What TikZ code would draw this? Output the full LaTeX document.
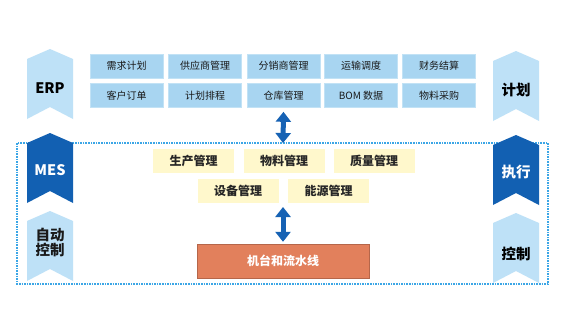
\documentclass[tikz,border=0pt]{standalone}
\usepackage{fontspec}
\setmainfont{Noto Sans CJK SC}
\usepackage{tikz}
\usetikzlibrary{arrows.meta}
\definecolor{planblue}{RGB}{168,213,241}
\definecolor{lightchev}{RGB}{190,225,247}
\definecolor{darkchev}{RGB}{18,96,178}
\definecolor{mesyellow}{RGB}{255,248,204}
\definecolor{lineorange}{RGB}{226,128,92}
\definecolor{framedot}{RGB}{60,166,230}
\definecolor{arrowblue}{RGB}{22,98,180}

\newcommand{\chevron}[3]{%
  \fill[#3] ({#1-23},#2) -- (#1,{#2-10}) -- ({#1+23},#2) -- ({#1+23},{#2+60})
    -- (#1,{#2+48}) -- ({#1-23},{#2+60}) -- cycle;}

\begin{document}
\begin{tikzpicture}[x=1pt, y=-1pt,
  plan/.style={fill=planblue, draw=planblue!70!white, line width=0.6pt,
    minimum width=73pt, minimum height=24pt, inner sep=0pt, font=\fontsize{10}{11}\selectfont, text=black!90},
  mes/.style={fill=mesyellow, minimum width=81pt, minimum height=24pt, inner sep=0pt,
    font=\fontsize{12}{13}\selectfont\bfseries, text=black!85},
  layer/.style={font=\fontsize{14.5}{16}\selectfont\bfseries, align=center, inner sep=0pt},
  dblarrow/.style={{Triangle[width=15pt,length=10pt]}-{Triangle[width=15pt,length=10pt]},
    line width=5pt, draw=arrowblue}]
\useasboundingbox (0,0) rectangle (570,335);
\fill[white] (0,0) rectangle (570,335);

\draw[framedot, line width=1.6pt, densely dotted] (17,143) rectangle (548,284);

\chevron{50}{59}{lightchev}
\chevron{50}{143}{darkchev}
\chevron{50}{221}{lightchev}
\chevron{516}{61}{lightchev}
\chevron{516}{145}{darkchev}
\chevron{516}{223}{lightchev}

\node[layer] (erp) at (50,88) {ERP};
\node[layer, text=white] (mes) at (50,170) {MES};
\node[layer, text=black!90] (zdkz) at (50,242) {自动\\[-1pt]控制};
\node[layer] (jihua) at (516,90) {计划};
\node[layer, text=white] (zhixing) at (516,172) {执行};
\node[layer] (kongzhi) at (516,254) {控制};

\node[plan] (xqjh) at (126.5,66) {需求计划};
\node[plan] (gysgl) at (205,66) {供应商管理};
\node[plan] (fxsgl) at (283.5,66) {分销商管理};
\node[plan] (ysdd) at (361,66) {运输调度};
\node[plan] (cwjs) at (439,66) {财务结算};
\node[plan] (khdd) at (126.5,95.5) {客户订单};
\node[plan] (jhpc) at (205,95.5) {计划排程};
\node[plan] (ckgl) at (283.5,95.5) {仓库管理};
\node[plan] (bom) at (361,95.5) {BOM 数据};
\node[plan] (wlcg) at (439,95.5) {物料采购};

\node[mes] (scgl) at (193.5,161) {生产管理};
\node[mes] (wlgl) at (284,161) {物料管理};
\node[mes] (zlgl) at (374,161) {质量管理};
\node[mes] (sbgl) at (238,191) {设备管理};
\node[mes] (nygl) at (328.5,191) {能源管理};

\node[fill=lineorange, draw=lineorange!80!black, line width=0.4pt, minimum width=172pt, minimum height=34pt,
  inner sep=0pt, text=white, font=\fontsize{12}{13}\selectfont\bfseries] (jtlsx) at (283,261) {机台和流水线};

\coordinate (ftop) at (283,143);
\coordinate (mbot) at (283,207);
\draw[dblarrow] ([yshift=-4pt]ckgl.south) -- (ftop);
\draw[dblarrow] (mbot) -- ([yshift=2pt]jtlsx.north);
\end{tikzpicture}
\end{document}
